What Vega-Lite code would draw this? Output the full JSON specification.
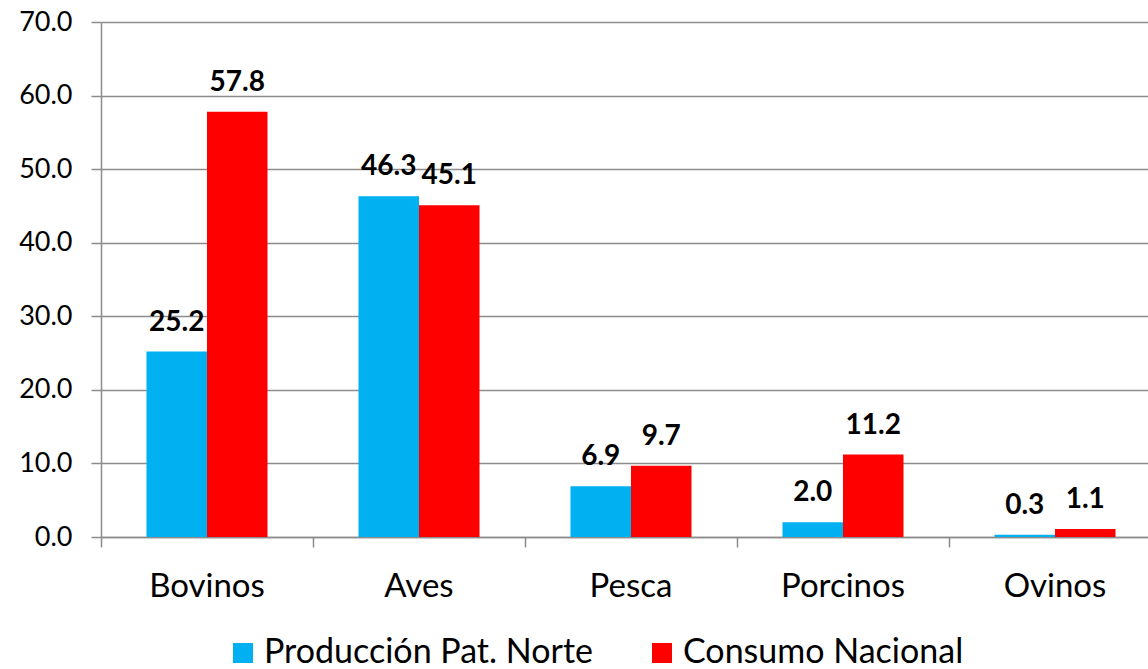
{
  "$schema": "https://vega.github.io/schema/vega-lite/v6.json",
  "width": 1047,
  "height": 515,
  "autosize": {"type": "none"},
  "padding": {"left": 101, "top": 22, "right": 0, "bottom": 132},
  "background": "white",
  "config": {
    "view": {"stroke": null},
    "font": "Lato",
    "axis": {"labelFont": "Lato", "labelColor": "#000000"},
    "legend": {"labelFont": "Lato", "labelColor": "#000000"}
  },
  "data": {
    "values": [
      {"categoria": "Bovinos", "serie": "Producción Pat. Norte", "valor": 25.2},
      {"categoria": "Bovinos", "serie": "Consumo Nacional", "valor": 57.8},
      {"categoria": "Aves", "serie": "Producción Pat. Norte", "valor": 46.3},
      {"categoria": "Aves", "serie": "Consumo Nacional", "valor": 45.1},
      {"categoria": "Pesca", "serie": "Producción Pat. Norte", "valor": 6.9},
      {"categoria": "Pesca", "serie": "Consumo Nacional", "valor": 9.7},
      {"categoria": "Porcinos", "serie": "Producción Pat. Norte", "valor": 2.0},
      {"categoria": "Porcinos", "serie": "Consumo Nacional", "valor": 11.2},
      {"categoria": "Ovinos", "serie": "Producción Pat. Norte", "valor": 0.3},
      {"categoria": "Ovinos", "serie": "Consumo Nacional", "valor": 1.1}
    ]
  },
  "encoding": {
    "x": {
      "field": "categoria",
      "type": "nominal",
      "sort": ["Bovinos", "Aves", "Pesca", "Porcinos", "Ovinos"],
      "scale": {"range": [0, 1060], "paddingInner": 0, "paddingOuter": 0},
      "axis": {
        "title": null,
        "labelAngle": 0,
        "labelFontSize": 33,
        "labelPadding": 23,
        "bandPosition": 0,
        "ticks": true,
        "tickSize": 10,
        "tickColor": "#8c8c8c",
        "tickWidth": 1.5,
        "domainColor": "#8c8c8c",
        "domainWidth": 1.5,
        "grid": false
      }
    },
    "xOffset": {
      "field": "serie",
      "type": "nominal",
      "sort": ["Producción Pat. Norte", "Consumo Nacional"],
      "scale": {"paddingInner": 0, "paddingOuter": 0.752}
    },
    "y": {
      "field": "valor",
      "type": "quantitative",
      "scale": {"domain": [0, 70], "nice": false, "zero": true},
      "axis": {
        "title": null,
        "values": [0, 10, 20, 30, 40, 50, 60, 70],
        "format": ".1f",
        "labelFontSize": 27,
        "labelPadding": 19,
        "tickSize": 10,
        "tickColor": "#8c8c8c",
        "tickWidth": 1.5,
        "domainColor": "#8c8c8c",
        "domainWidth": 1.5,
        "grid": true,
        "gridColor": "#8c8c8c",
        "gridWidth": 1.5
      }
    }
  },
  "layer": [
    {
      "mark": {"type": "bar"},
      "encoding": {
        "color": {
          "field": "serie",
          "type": "nominal",
          "scale": {"domain": ["Producción Pat. Norte", "Consumo Nacional"], "range": ["#00B0F0", "#FF0000"]},
          "legend": {
            "title": null,
            "orient": "none",
            "direction": "horizontal",
            "legendX": 125,
            "legendY": 614,
            "symbolType": "square",
            "symbolSize": 400,
            "symbolStrokeWidth": 0,
            "labelFontSize": 34,
            "labelLimit": 600,
            "labelOffset": 4,
            "columnPadding": 52
          }
        }
      }
    },
    {
      "mark": {"type": "text", "fontWeight": "bold", "fontSize": 28, "baseline": "alphabetic", "dy": -21, "color": "#000000", "font": "Lato"},
      "encoding": {
        "text": {"field": "valor", "type": "quantitative", "format": ".1f"}
      }
    }
  ]
}
